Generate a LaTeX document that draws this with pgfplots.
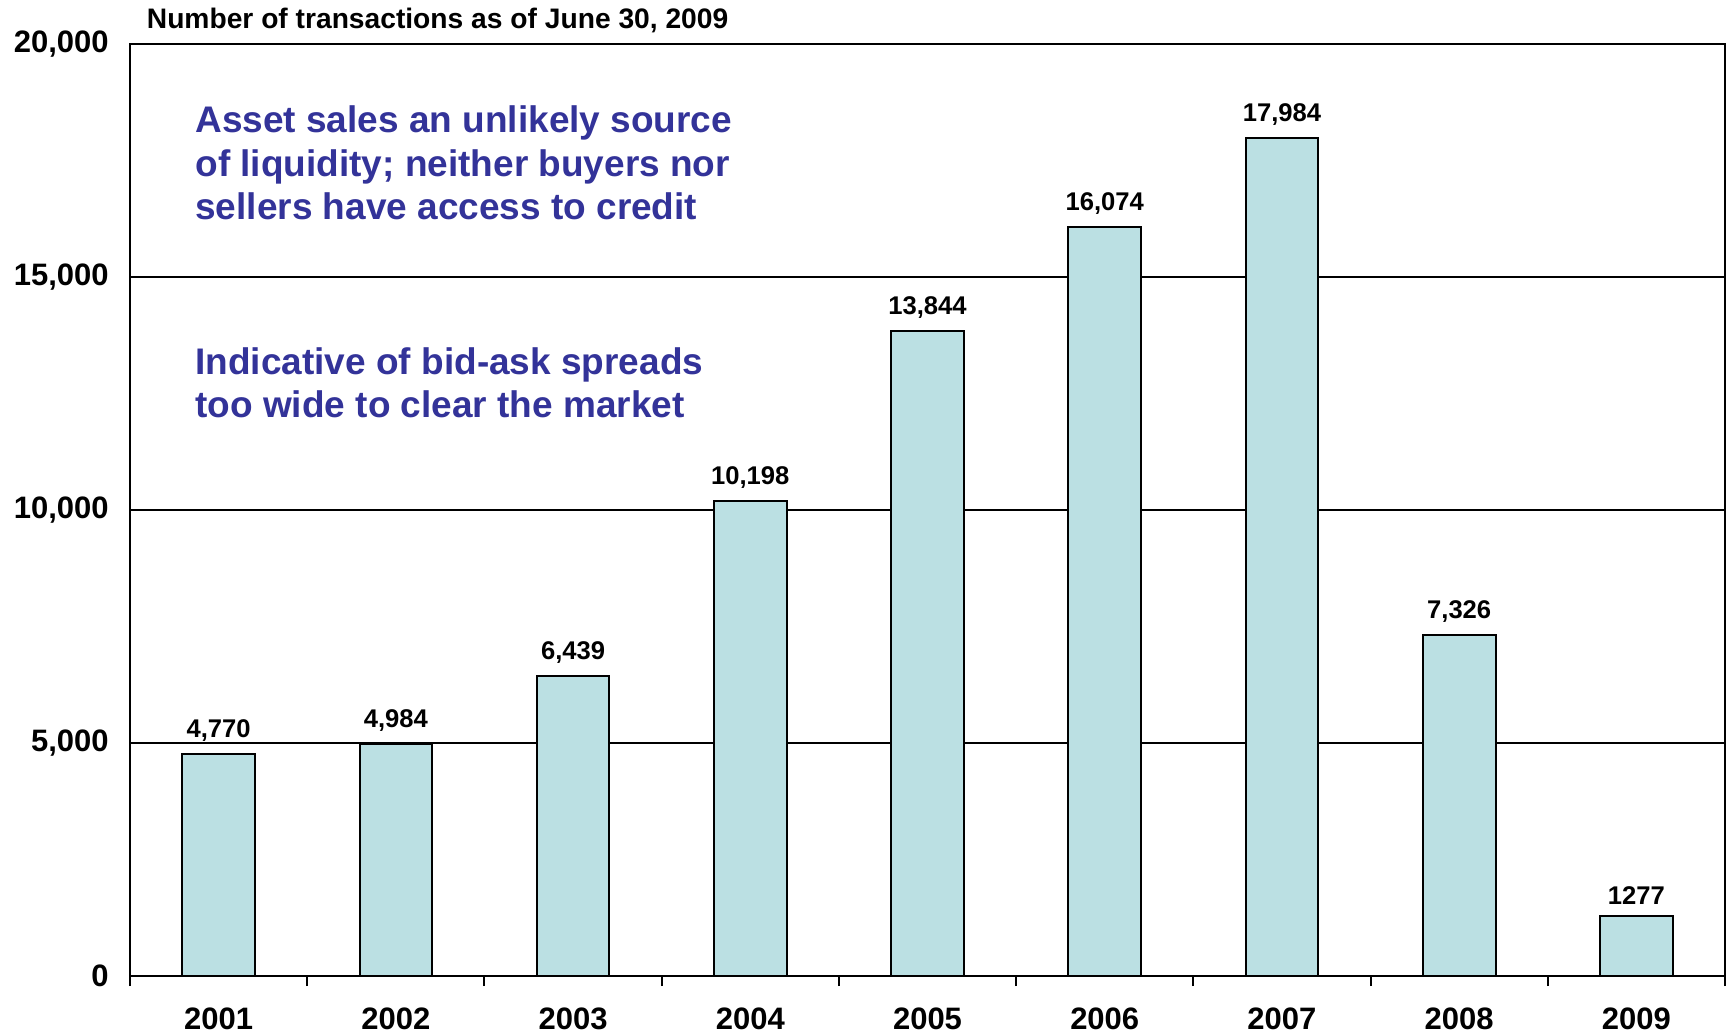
\documentclass[border=0pt]{standalone}
\usepackage{pgfplots}
\pgfplotsset{compat=1.18}
\usepackage{fontspec}
\setmainfont{Liberation Sans}
\definecolor{barfill}{RGB}{187,224,227}
\definecolor{txtblue}{RGB}{51,51,153}
\begin{document}
\begin{tikzpicture}
\begin{axis}[
  name=ax, at={(0,0)}, anchor=south west,
  scale only axis, width=797.5pt, height=466pt,
  clip=false,
  xmin=-0.5, xmax=8.5, ymin=0, ymax=20000,
  scaled y ticks=false,
  xtick={0,1,2,3,4,5,6,7,8},
  xticklabels={2001,2002,2003,2004,2005,2006,2007,2008,2009},
  minor xtick={-0.5,0.5,1.5,2.5,3.5,4.5,5.5,6.5,7.5,8.5},
  ytick={0,5000,10000,15000,20000},
  yticklabels={0,{5,000},{10,000},{15,000},{20,000}},
  major tick length=0pt, minor tick length=5pt,
  tick align=outside, xtick pos=bottom, ytick pos=left,
  ymajorgrids, grid style={black, line width=1pt},
  axis line style={black, line width=1pt},
  minor tick style={black, line width=1pt},
  xticklabel style={font=\bfseries\fontsize{15.5}{16}\selectfont, inner sep=0pt, anchor=north, yshift=-15.5pt},
  yticklabel style={font=\bfseries\fontsize{15.5}{16}\selectfont, inner sep=0pt, anchor=east, xshift=-10.5pt},
  ybar, bar width=0.41,
  nodes near coords, point meta=explicit symbolic,
  nodes near coords style={font=\bfseries\fontsize{12.8}{13}\selectfont, text=black, anchor=south, inner sep=0pt, yshift=5.5pt},
]
\addplot[fill=barfill, draw=black, line width=1pt] coordinates {
  (0,4770) [4,770]
  (1,4984) [4,984]
  (2,6439) [6,439]
  (3,10198) [10,198]
  (4,13844) [13,844]
  (5,16074) [16,074]
  (6,17984) [17,984]
  (7,7326) [7,326]
  (8,1277) [1277]
};
\node[anchor=base west, inner sep=0pt, xshift=8.25pt, yshift=7.7pt, font=\bfseries\fontsize{14.1}{15}\selectfont] at (rel axis cs:0,1) {Number of transactions as of June 30, 2009};
\begin{scope}[every node/.style={anchor=base west, inner sep=0pt, text=txtblue, font=\bfseries\fontsize{18.5}{20}\selectfont}]
\node[xshift=32.5pt, yshift=-44.5pt] at (rel axis cs:0,1) {Asset sales an unlikely source};
\node[xshift=32.5pt, yshift=-66.5pt] at (rel axis cs:0,1) {of liquidity; neither buyers nor};
\node[xshift=32.5pt, yshift=-88pt] at (rel axis cs:0,1) {sellers have access to credit};
\node[xshift=32.5pt, yshift=-165.2pt] at (rel axis cs:0,1) {Indicative of bid-ask spreads};
\node[xshift=32.5pt, yshift=-186.7pt] at (rel axis cs:0,1) {too wide to clear the market};
\end{scope}
\end{axis}
\path (ax.south west) ++(-65pt,-29pt) coordinate (bl);
\path (ax.north east) ++(1pt,22pt) coordinate (tr);
\pgfresetboundingbox
\path[use as bounding box] (bl) rectangle (tr);
\end{tikzpicture}
\end{document}
